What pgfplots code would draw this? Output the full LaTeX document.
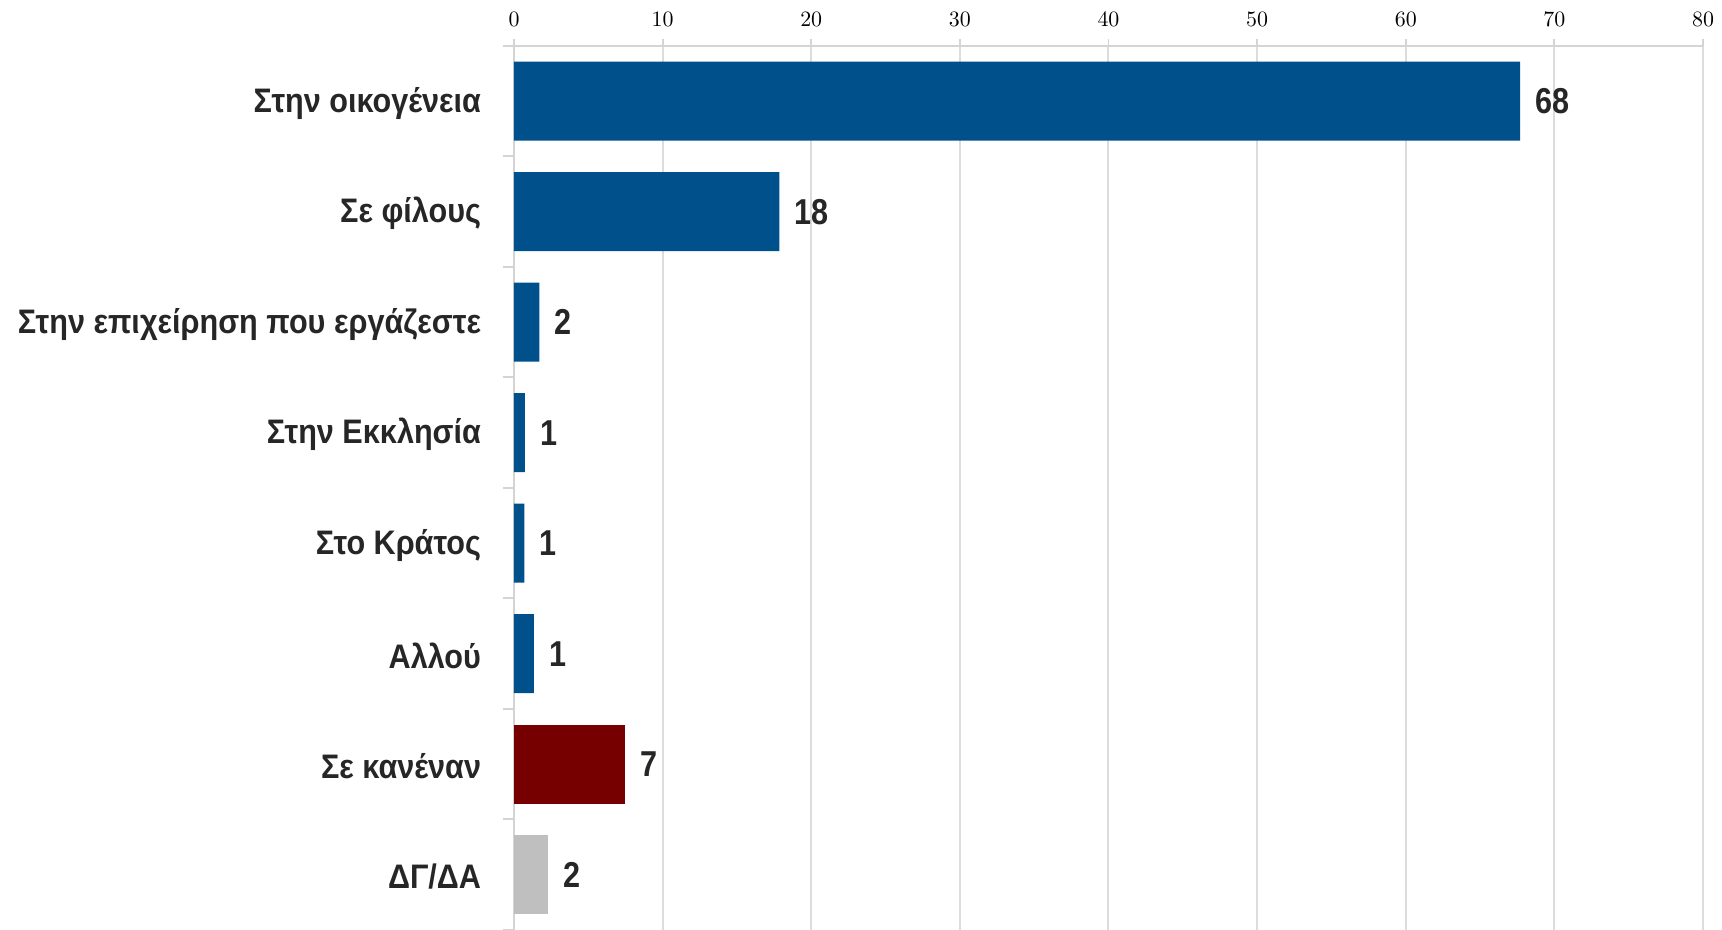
\documentclass[border=0pt]{standalone}
\usepackage{fontspec}
\usepackage{pgfplots}
\pgfplotsset{compat=1.18}
\newfontfamily\lab{Liberation Sans}[FakeStretch=0.9]
\newfontfamily\labn{Liberation Sans}[FakeStretch=0.85]
\definecolor{barblue}{HTML}{00508C}
\definecolor{barred}{HTML}{760000}
\definecolor{bargray}{HTML}{BFBFBF}
\definecolor{txt}{HTML}{262626}
\definecolor{gridc}{HTML}{DCDCDC}
\definecolor{axc}{HTML}{D4D4D4}
\pgfplotstableread{
y v l
7 67.7 68
6 17.86 18
5 1.71 2
4 0.74 1
3 0.70 1
2 1.33 1
}\blue
\pgfplotstableread{
y v l
1 7.45 7
}\red
\pgfplotstableread{
y v l
0 2.27 2
}\gray
\begin{document}
\begin{tikzpicture}
\begin{axis}[
  at={(0,0)}, anchor=south west,
  scale only axis, width=594.5pt, height=442pt,
  xmin=0, xmax=80, ymin=-0.5, ymax=7.5,
  axis x line*=top, axis y line*=left,
  x axis line style={-, draw=axc, line width=0.9pt},
  y axis line style={-, draw=axc, line width=1.4pt},
  xtick={0,10,...,80},
  xmajorgrids, grid style={draw=gridc, line width=1pt},
  tick align=outside,
  major tick length=3.3pt, minor tick length=5.5pt,
  major x tick style={draw=axc, line width=0.9pt},
  ytick={0,...,7},
  yticklabels={ΔΓ/ΔΑ, Σε κανέναν, Αλλού, Στο Κράτος, Στην Εκκλησία, Στην επιχείρηση που εργάζεστε, Σε φίλους, Στην οικογένεια},
  minor ytick={-0.5,0.5,...,7.5},
  major y tick style={draw=none},
  minor y tick style={draw=axc, line width=1pt},
  yticklabel style={font=\lab\bfseries\fontsize{17}{19}\selectfont, text=txt, inner sep=0pt, xshift=-13pt, yshift=-1pt},
  xticklabel style={text=black, font=\fontsize{11}{13}\selectfont, yshift=3pt},
  bar width=39.5pt,
  nodes near coords style={font=\labn\bfseries\fontsize{18}{20}\selectfont, text=txt, anchor=west, inner sep=0pt, xshift=7.5pt},
]
\addplot[xbar, bar shift=0pt, fill=barblue, draw=none, nodes near coords, point meta=explicit symbolic] table[x=v, y=y, meta=l] {\blue};
\addplot[xbar, bar shift=0pt, fill=barred, draw=none, nodes near coords, point meta=explicit symbolic] table[x=v, y=y, meta=l] {\red};
\addplot[xbar, bar shift=0pt, fill=bargray, draw=none, nodes near coords, point meta=explicit symbolic] table[x=v, y=y, meta=l] {\gray};
\end{axis}
\pgfresetboundingbox
\useasboundingbox (-257pt,0pt) rectangle (604pt,465pt);
\end{tikzpicture}
\end{document}
